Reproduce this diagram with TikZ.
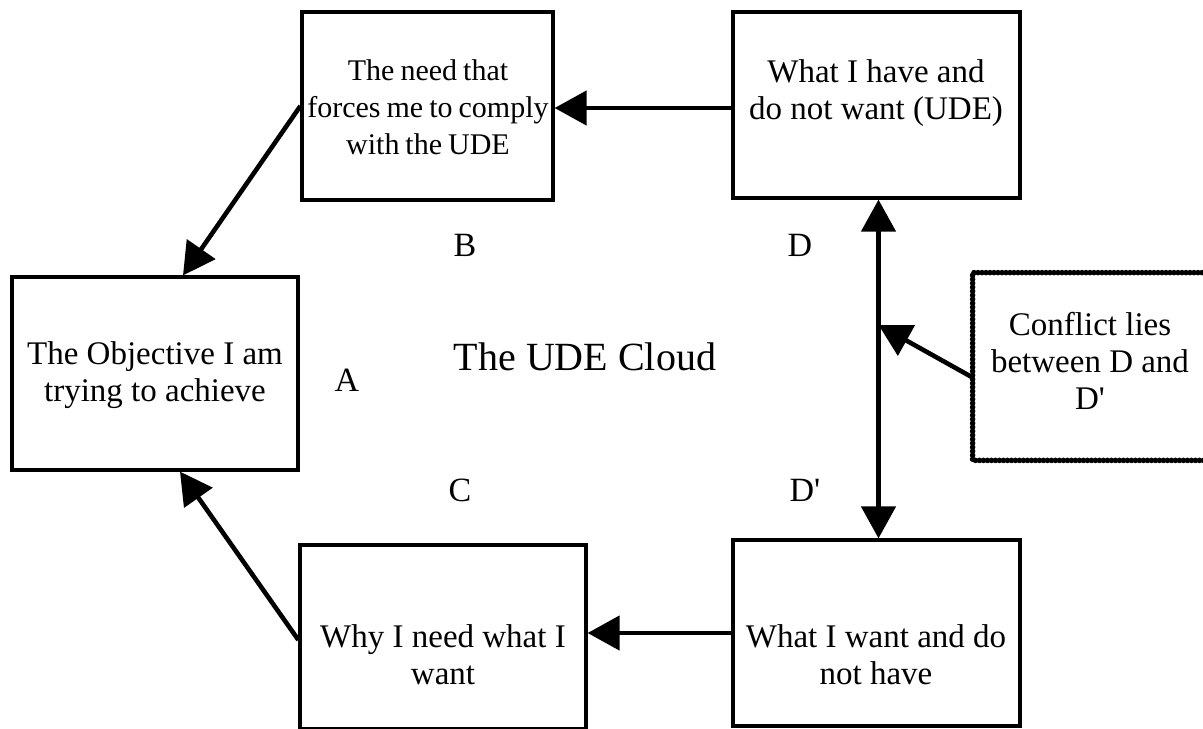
\documentclass[tikz,border=0pt]{standalone}
\usepackage{fontspec}
\setmainfont{Liberation Serif}
\usetikzlibrary{arrows.meta,calc}
\newcommand{\prm}{\textquotesingle}
\newcommand{\tightwords}{\spaceskip=0.2em\relax}
\tikzset{
  box/.style={draw, line width=1.6pt, inner sep=0pt},
  txt/.style={align=center, font=\fontsize{16.5}{18.5}\selectfont, inner sep=0pt},
  lbl/.style={font=\fontsize{17}{18}\selectfont, inner sep=0pt},
  link/.style={line width=2.3pt, -{Triangle[length=16pt,width=17pt]}},
  beaded/.style={line width=2.8pt, dash pattern=on 0pt off 2pt, line cap=round},
}
\begin{document}
\begin{tikzpicture}[x=0.5pt,y=-0.5pt]
\useasboundingbox (0,0) rectangle (1203,728);
\begin{scope}
\clip (0,0) rectangle (1203,728);
% the five boxes of the cloud
\node[box, minimum width=125.5pt, minimum height=94pt] (B) at (427.5,106) {};
\node[box, minimum width=143.5pt, minimum height=93pt] (D) at (876.5,105) {};
\node[box, minimum width=143pt, minimum height=96.5pt] (A) at (155,373.5) {};
\node[box, minimum width=143pt, minimum height=92pt] (C) at (443,637) {};
\node[box, minimum width=143.5pt, minimum height=93pt] (Dp) at (876.5,633) {};
% conflict note with beaded border
\node[minimum width=121pt, minimum height=93.5pt, inner sep=0pt] (K) at (1094,366.5) {};
\draw[line width=1pt] (K.south east) -- (K.south west) -- (K.north west) -- (K.north east);
\draw[beaded] (K.south east) -- (K.south west) -- (K.north west) -- (K.north east);
\end{scope}

% box texts
\node[txt, font={\fontsize{15}{18.5}\selectfont\tightwords}] (tB) at (428,107) {The need that\\forces me to comply\\with the UDE};
\node[txt] (tD) at (876,93) {What I have and\\do not want (UDE)};
\node[txt] (tA) at (155,375) {The Objective I am\\trying to achieve};
\node[txt] (tC) at (443,655) {Why I need what I\\want};
\node[txt] (tDp) at (876,655) {What I want and do\\not have};
\node[txt] (tK) at (1090,361) {Conflict lies\\between D and\\D\prm};

% letters and title
\node[lbl] (lB) at (465,245) {B};
\node[lbl] (lD) at (800,245) {D};
\node[lbl] (lA) at (347,380) {A};
\node[lbl] (lC) at (460,490) {C};
\node[lbl] (lDp) at (805,490) {D\prm};
\node[font=\fontsize{20}{22}\selectfont, inner sep=0pt] (title) at (585,357) {The UDE Cloud};

% connector end points
\coordinate (dOut) at ($(D.west)+(0,3)$);
\coordinate (cOut) at ($(C.west)+(0,3)$);
\coordinate (aTop) at ($(A.north)+(28,0)$);
\coordinate (aBot) at ($(A.south)+(25,0)$);
\coordinate (dBot) at ($(D.south)+(2,0)$);
\coordinate (dpTop) at ($(Dp.north)+(2,0)$);
\coordinate (mid) at ($(dBot)!0.37!(dpTop)$);
\coordinate (kOut) at ($(K.west)+(0,11)$);

% connectors
\draw[link] (B.west) -- (aTop);
\draw[link] (cOut) -- (aBot);
\draw[link] (dOut) -- (dOut-|B.east);
\draw[link] (Dp.west) -- (Dp.west-|C.east);
\draw[line width=2.3pt, {Triangle[length=16pt,width=17pt]}-{Triangle[length=16pt,width=17pt]}] (dBot) -- (dpTop);
\draw[link] (kOut) -- (mid);
\end{tikzpicture}
\end{document}
